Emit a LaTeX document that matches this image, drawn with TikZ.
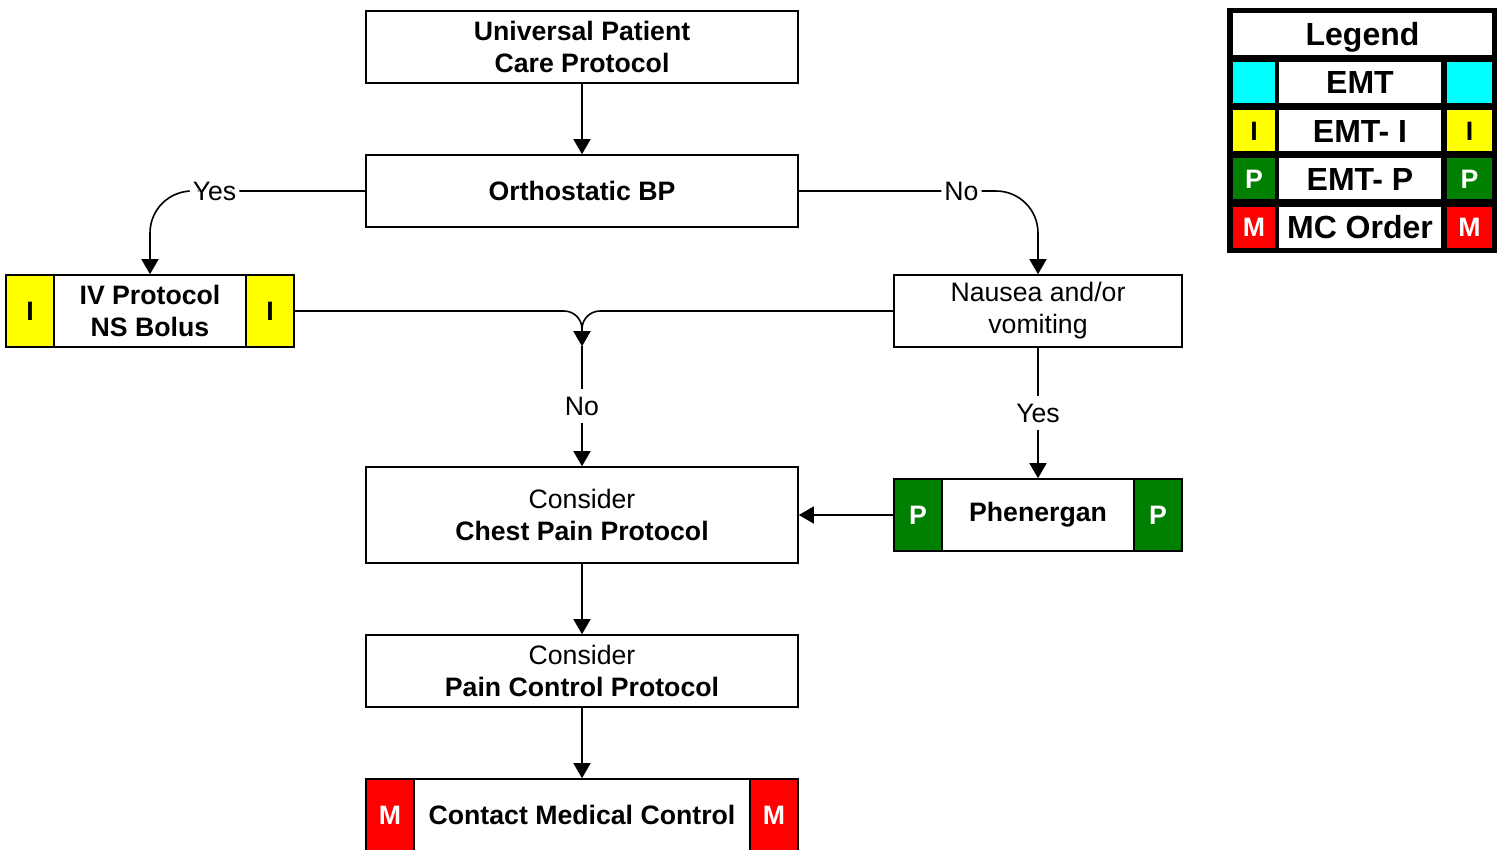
\documentclass[tikz,border=0pt]{standalone}
\usepackage{fontspec}
\setmainfont{Liberation Sans}
\usetikzlibrary{arrows.meta}

\definecolor{flagyellow}{RGB}{255,255,0}
\definecolor{flaggreen}{RGB}{0,128,0}
\definecolor{flagred}{RGB}{255,0,0}
\definecolor{flagcyan}{RGB}{0,255,255}
\newcommand\chartfont{\fontsize{26.67}{32}\selectfont}
\newcommand\legendfont{\fontsize{32}{36}\selectfont}

\tikzset{x=1pt, y=-1pt, font=\chartfont,
  box/.style={draw, line width=1.6pt, fill=white, align=center, font=\chartfont\bfseries,
    minimum width=432pt, minimum height=72pt, inner sep=0pt},
  smallbox/.style={box, minimum width=288pt},
  flag/.style={draw, line width=1.6pt, font=\chartfont\bfseries,
    minimum width=48pt, minimum height=72pt, inner sep=0pt},
  arr/.style={line width=1.6pt, -{Triangle[length=15pt, width=17pt]}},
  lbl/.style={fill=white, inner xsep=3pt, inner ysep=2pt, minimum height=34pt, font=\chartfont\mdseries},
  cell/.style={fill=white, inner sep=0pt, minimum height=41pt, text height=23pt, text depth=0pt,
    font=\legendfont\bfseries}}

\begin{document}
\begin{tikzpicture}
  \useasboundingbox (0,0) rectangle (1498,849);

  % flow boxes
  \node [box] (upc) at (582,47) {Universal Patient\\Care Protocol};
  \node [box] (orth) at (582,191) {Orthostatic BP};
  \node [smallbox] (iv) at (150,311) {IV Protocol\\NS Bolus};
  \node [flag, fill=flagyellow, anchor=west] (ivL) at (iv.west) {I};
  \node [flag, fill=flagyellow, anchor=east] (ivR) at (iv.east) {I};
  \node [smallbox, font=\chartfont\mdseries] (nausea) at (1038,311) {Nausea and/or\\vomiting};
  \node [box, minimum height=96pt] (chest) at (582,515) {\mdseries Consider\\Chest Pain Protocol};
  \node [smallbox] (phen) at (1038,515) {Phenergan};
  \node [flag, fill=flaggreen, text=white, anchor=west] (phenL) at (phen.west) {P};
  \node [flag, fill=flaggreen, text=white, anchor=east] (phenR) at (phen.east) {P};
  \node [box] (pain) at (582,671) {\mdseries Consider\\Pain Control Protocol};
  \node [box] (mc) at (582,815) {Contact Medical Control};
  \node [flag, fill=flagred, text=white, anchor=west] (mcL) at (mc.west) {M};
  \node [flag, fill=flagred, text=white, anchor=east] (mcR) at (mc.east) {M};
  \coordinate (merge) at (582,346);

  % connectors
  \draw [arr] (upc) -- (orth);
  \draw [arr, rounded corners=42pt] (orth.west) -| node [lbl, pos=0.35] {Yes} (iv.north);
  \draw [arr, rounded corners=42pt] (orth.east) -| node [lbl, pos=0.34] {No} (nausea.north);
  \draw [arr, rounded corners=18pt] (ivR.east) -| (merge);
  \draw [arr, rounded corners=18pt] (nausea.west) -| (merge);
  \draw [arr] (merge) -- node [lbl] {No} (chest.north);
  \draw [arr] (nausea) -- node [lbl] {Yes} (phen);
  \draw [arr] (phenL.west) -- (chest.east);
  \draw [arr] (chest) -- (pain);
  \draw [arr] (pain) -- (mc);

  % legend
  \node [fill=black, minimum width=270pt, minimum height=245pt, inner sep=0pt] (lgd) at (1362,130.5) {};
  \node [cell, minimum width=259pt, minimum height=42pt] (lgdT) at (1362.5,34) {Legend};
  \foreach \i/\c/\l/\t/\tc in {1/flagcyan/{}/EMT/black, 2/flagyellow/I/EMT- I/black,
      3/flaggreen/P/EMT- P/white, 4/flagred/M/MC Order/white} {
    \node [cell, fill=\c, text=\tc, minimum width=42pt, text height=19pt, font=\chartfont\bfseries] (lgdL\i) at (1254,34+\i*48.3) {\l};
    \node [cell, minimum width=162pt] (lgdM\i) at (1360,34+\i*48.3) {\t};
    \node [cell, fill=\c, text=\tc, minimum width=45pt, text height=19pt, font=\chartfont\bfseries] (lgdR\i) at (1469.5,34+\i*48.3) {\l};
  }
\end{tikzpicture}
\end{document}
